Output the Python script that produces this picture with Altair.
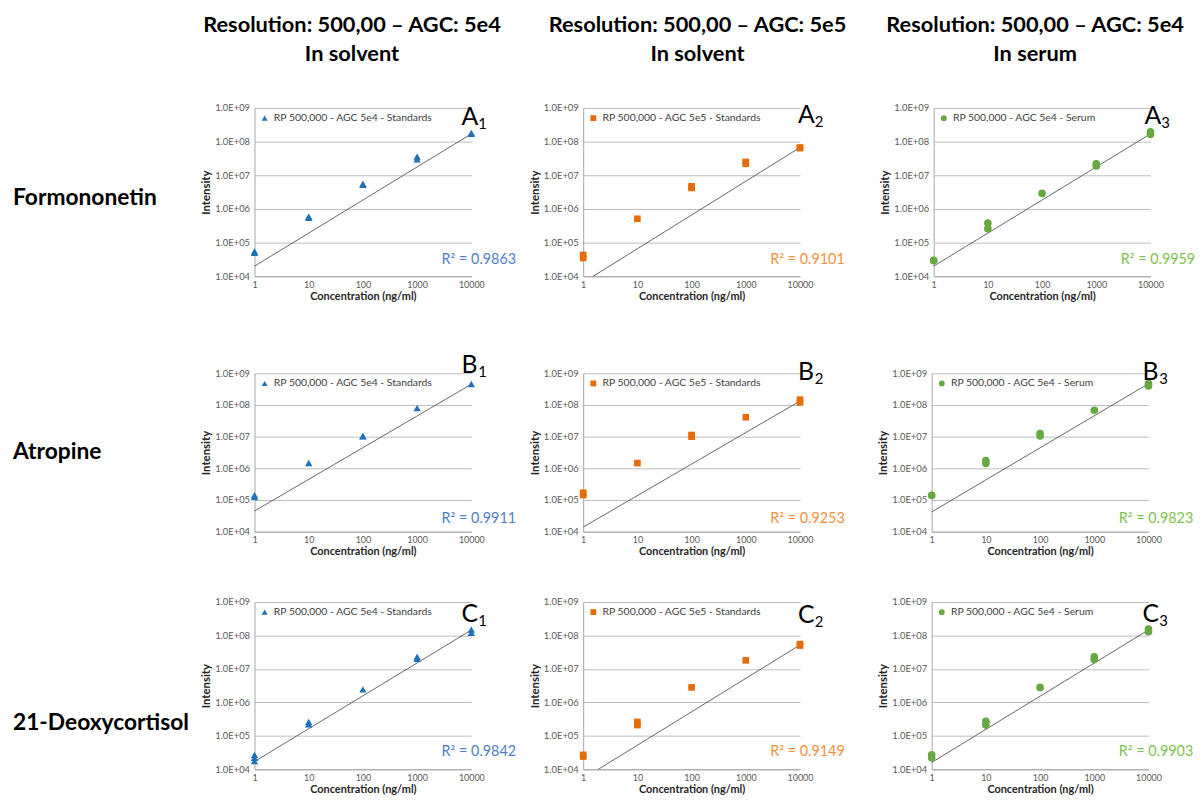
import altair as alt
import pandas as pd

FONT = "Lato"

COL_TITLES = [
    ["Resolution: 500,00 – AGC: 5e4", "In solvent"],
    ["Resolution: 500,00 – AGC: 5e5", "In solvent"],
    ["Resolution: 500,00 – AGC: 5e4", "In serum"],
]
ROW_LABELS = ["Formononetin", "Atropine", "21-Deoxycortisol"]
SERIES = [
    "RP 500,000 - AGC 5e4 - Standards",
    "RP 500,000 - AGC 5e5 - Standards",
    "RP 500,000 - AGC 5e4 - Serum",
]
ROW_LETTERS = ["A", "B", "C"]
COL_NUMBERS = ["1", "2", "3"]
R2_VALUES = ["0.9863", "0.9101", "0.9959",
             "0.9911", "0.9253", "0.9823",
             "0.9842", "0.9149", "0.9903"]

X_TICKS = [1, 10, 100, 1000, 10000]
Y_TICKS = [1e4, 1e5, 1e6, 1e7, 1e8, 1e9]

# ---- measured points (concentration ng/ml, intensity) ----
A1_conc = [1, 1, 10, 10, 100, 100, 1000, 1000, 10000, 10000]
A1_int = [5.0e4, 5.5e4, 5.9e5, 5.5e5, 5.2e6, 5.6e6, 3.6e7, 3.0e7, 1.8e8, 1.7e8]
A2_conc = [1, 1, 10, 100, 100, 1000, 1000, 10000, 10000]
A2_int = [4.3e4, 3.5e4, 5.1e5, 4.7e6, 4.2e6, 2.5e7, 2.2e7, 6.7e7, 6.4e7]
A3_conc = [1, 1, 10, 10, 100, 1000, 1000, 10000, 10000]
A3_int = [3.0e4, 2.9e4, 3.8e5, 2.6e5, 2.9e6, 2.2e7, 1.9e7, 1.97e8, 1.65e8]
B1_conc = [1, 1, 10, 100, 100, 1000, 10000]
B1_int = [1.43e5, 1.24e5, 1.47e6, 1.02e7, 1.05e7, 8.0e7, 4.6e8]
B2_conc = [1, 1, 10, 100, 100, 1000, 10000, 10000]
B2_int = [1.7e5, 1.43e5, 1.47e6, 1.13e7, 1.0e7, 4.1e7, 1.47e8, 1.21e8]
B3_conc = [1, 10, 10, 100, 100, 1000, 10000, 10000]
B3_int = [1.4e5, 1.76e6, 1.43e6, 1.25e7, 1.05e7, 6.8e7, 4.7e8, 4.0e8]
C1_conc = [1, 1, 1, 10, 10, 100, 1000, 1000, 10000, 10000]
C1_int = [2.7e4, 2.2e4, 1.75e4, 2.6e5, 2.2e5, 2.45e6, 2.3e7, 2.0e7, 1.5e8, 1.2e8]
C2_conc = [1, 1, 10, 10, 100, 1000, 10000, 10000]
C2_int = [2.7e4, 2.4e4, 2.6e5, 2.1e5, 2.8e6, 1.8e7, 5.5e7, 5.0e7]
C3_conc = [1, 1, 10, 10, 100, 1000, 1000, 10000, 10000]
C3_int = [2.7e4, 2.2e4, 2.7e5, 2.1e5, 2.8e6, 2.3e7, 1.9e7, 1.56e8, 1.3e8]

# ---- power trendline end points (as drawn) ----
A1_tx, A1_ty = [1, 10000], [2.0e4, 1.7e8]
A2_tx, A2_ty = [1.53, 10000], [1.0e4, 6.7e7]
A3_tx, A3_ty = [1, 10000], [2.0e4, 1.7e8]
B1_tx, B1_ty = [1, 10000], [4.5e4, 4.5e8]
B2_tx, B2_ty = [1, 10000], [1.4e4, 1.33e8]
B3_tx, B3_ty = [1, 10000], [4.2e4, 4.7e8]
C1_tx, C1_ty = [1, 10000], [1.7e4, 1.45e8]
C2_tx, C2_ty = [1.9, 10000], [1.0e4, 5.2e7]
C3_tx, C3_ty = [1, 10000], [1.6e4, 1.46e8]

POINTS = [
    [(A1_conc, A1_int), (A2_conc, A2_int), (A3_conc, A3_int)],
    [(B1_conc, B1_int), (B2_conc, B2_int), (B3_conc, B3_int)],
    [(C1_conc, C1_int), (C2_conc, C2_int), (C3_conc, C3_int)],
]
TRENDS = [
    [(A1_tx, A1_ty), (A2_tx, A2_ty), (A3_tx, A3_ty)],
    [(B1_tx, B1_ty), (B2_tx, B2_ty), (B3_tx, B3_ty)],
    [(C1_tx, C1_ty), (C2_tx, C2_ty), (C3_tx, C3_ty)],
]

# ---- annotation anchors / styles ----
LETTER_Y = [[3.2e8, 3.6e8, 3.4e8], [1.0e9, 6.0e8, 6.0e8], [2.6e8, 2.4e8, 2.6e8]]
LETTER_DX = [-10, -2, -6]
R2_Y = [3.0e4, 2.5e4, 3.2e4]
COLORS = ["#2070b8", "#e46c0a", "#68a840"]
R2_COLORS = ["#4f7fc4", "#f4913c", "#80c250"]
SHAPES = ["triangle-up", "square", "circle"]
SIZES = [55, 45, 60]
PLOT_W = 219
PLOT_H = [170, 160, 169]
LABEL_Y = [91, 80, 122]
TITLE_DX = [-11, 6, -7]


def panel(r, c):
    conc, inten = POINTS[r][c]
    tx, ty = TRENDS[r][c]
    df = pd.DataFrame({"conc": conc, "intensity": inten, "series": SERIES[c]})
    tdf = pd.DataFrame({"conc": tx, "intensity": ty})
    ydf = pd.DataFrame({"conc": [10000], "intensity": [R2_Y[r]],
                        "txt": ["R² = " + R2_VALUES[r * 3 + c]]})
    ldf = pd.DataFrame({"conc": [10000], "intensity": [LETTER_Y[r][c]],
                        "L": [ROW_LETTERS[r]], "N": [COL_NUMBERS[c]]})

    x = alt.X("conc:Q",
              scale=alt.Scale(type="log", domain=[1, 10000], nice=False),
              axis=alt.Axis(values=X_TICKS, format="d", title="Concentration (ng/ml)",
                            grid=False, ticks=False, labelPadding=4,
                            labelFontSize=9, labelColor="#595959", labelFont=FONT,
                            titleFont=FONT, titleFontSize=11, titleFontWeight="bold",
                            titleColor="#262626", titlePadding=1,
                            domainColor="#a6a6a6", labelFlush=False))
    y = alt.Y("intensity:Q",
              scale=alt.Scale(type="log", domain=[1e4, 1e9], nice=False),
              axis=alt.Axis(values=Y_TICKS,
                            labelExpr="'1.0E+0' + round(log(datum.value)/LN10)",
                            title="Intensity", grid=True, gridColor="#bdbdbd",
                            gridWidth=1, ticks=False, labelPadding=5,
                            labelFontSize=9.5, labelColor="#595959", labelFont=FONT,
                            titleFont=FONT, titleFontSize=11.5, titleFontWeight="bold",
                            titleColor="#262626", titlePadding=3,
                            domainColor="#a6a6a6"))

    pts = alt.Chart(df).mark_point(filled=True, shape=SHAPES[c], size=SIZES[c],
                                   opacity=1).encode(
        x=x, y=y,
        color=alt.Color("series:N", scale=alt.Scale(range=[COLORS[c]]),
                        legend=alt.Legend(title=None, orient="top-left", offset=3,
                                          padding=2, symbolType=SHAPES[c],
                                          symbolSize=35, labelFont=FONT,
                                          labelFontSize=10.5, labelColor="#404040",
                                          labelLimit=300, symbolStrokeWidth=0)))
    trend = alt.Chart(tdf).mark_line(color="#404040", strokeWidth=0.8).encode(x=x, y=y)
    r2 = alt.Chart(ydf).mark_text(align="left", baseline="middle", dx=-30,
                                  font=FONT, fontSize=14.5,
                                  color=R2_COLORS[c]).encode(x=x, y=y, text="txt:N")
    let = alt.Chart(ldf).mark_text(align="left", baseline="alphabetic",
                                   dx=LETTER_DX[c], font=FONT, fontSize=25,
                                   color="black").encode(x=x, y=y, text="L:N")
    sub = alt.Chart(ldf).mark_text(align="left", baseline="alphabetic",
                                   dx=LETTER_DX[c] + 17, dy=4, font=FONT, fontSize=15,
                                   color="black").encode(x=x, y=y, text="N:N")
    props = dict(width=PLOT_W, height=PLOT_H[r])
    if r == 0:
        props["title"] = alt.TitleParams(text=COL_TITLES[c], font=FONT, fontSize=22,
                                         fontWeight="bold", color="black",
                                         anchor="middle", frame="group",
                                         dx=TITLE_DX[c], offset=37, lineHeight=30)
    return alt.layer(trend, pts, r2, let, sub).properties(**props)


def ind(ch):
    return ch.resolve_scale(color="independent")


def row(r):
    lab = alt.Chart(pd.DataFrame({"label": [ROW_LABELS[r]]})).mark_text(
        align="left", baseline="middle", font=FONT, fontSize=23, fontWeight="bold",
        color="black").encode(text="label:N", x=alt.value(5),
                              y=alt.value(LABEL_Y[r])).properties(width=194,
                                                                  height=PLOT_H[r])
    p12 = ind(alt.hconcat(panel(r, 0), panel(r, 1), spacing=12))
    p123 = ind(alt.hconcat(p12, panel(r, 2), spacing=32))
    return ind(alt.hconcat(lab, p123, spacing=0))


top = ind(alt.vconcat(row(0), row(1), spacing=53))
chart = ind(alt.vconcat(top, row(2), spacing=41)).properties(
    padding={"left": 0, "top": 2, "right": 0, "bottom": 0}
).configure_view(stroke=None)

chart.save("out.html", embed_options={"renderer": "svg", "actions": False})
